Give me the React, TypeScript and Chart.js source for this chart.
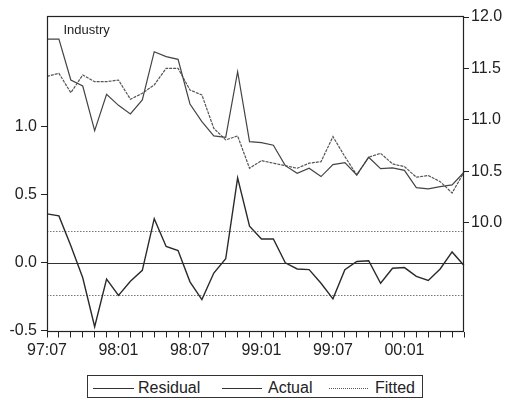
import React, { useEffect, useRef } from 'react';
import { Chart, registerables } from 'chart.js';

Chart.register(...registerables);

const months = [
  '97:07', '97:08', '97:09', '97:10', '97:11', '97:12',
  '98:01', '98:02', '98:03', '98:04', '98:05', '98:06',
  '98:07', '98:08', '98:09', '98:10', '98:11', '98:12',
  '99:01', '99:02', '99:03', '99:04', '99:05', '99:06',
  '99:07', '99:08', '99:09', '99:10', '99:11', '99:12',
  '00:01', '00:02', '00:03', '00:04', '00:05', '00:06',
];

const labeledMonths = ['97:07', '98:01', '98:07', '99:01', '99:07', '00:01'];

const residual = [
  0.36, 0.345, 0.125, -0.11, -0.47, -0.12, -0.24, -0.135, -0.055, 0.325,
  0.12, 0.09, -0.14, -0.27, -0.075, 0.03, 0.625, 0.27, 0.175, 0.175,
  0.0, -0.045, -0.05, -0.15, -0.265, -0.05, 0.01, 0.015, -0.15, -0.04,
  -0.035, -0.1, -0.13, -0.045, 0.08, -0.02,
];

const actual = [
  11.786, 11.786, 11.388, 11.33, 10.896, 11.249, 11.142, 11.058, 11.194, 11.663,
  11.615, 11.589, 11.155, 10.984, 10.845, 10.832, 11.469, 10.79, 10.78, 10.754,
  10.556, 10.482, 10.531, 10.45, 10.566, 10.586, 10.466, 10.638, 10.527, 10.534,
  10.511, 10.343, 10.33, 10.353, 10.369, 10.492,
];

const fitted = [
  11.424, 11.453, 11.265, 11.437, 11.372, 11.372, 11.388, 11.201, 11.259, 11.34,
  11.502, 11.502, 11.291, 11.243, 10.919, 10.806, 10.845, 10.531, 10.605, 10.58,
  10.556, 10.531, 10.58, 10.595, 10.838, 10.644, 10.466, 10.638, 10.676, 10.573,
  10.547, 10.444, 10.46, 10.401, 10.291, 10.492,
];

const seBand = 0.233;
const leftTicks = [-0.5, 0.0, 0.5, 1.0];
const rightTicks = [10.0, 10.5, 11.0, 11.5, 12.0];
const seriesNames = ['Residual', 'Actual', 'Fitted'];
const panelTitle = 'Industry';

const FONT = '"Liberation Sans", Arial, Helvetica, sans-serif';
const INK = '#222';

const framePlugin = {
  id: 'evFrame',
  beforeDatasetsDraw(chart: any) {
    const { ctx, chartArea } = chart;
    const y = chart.scales.y;
    ctx.save();
    const y0 = Math.round(y.getPixelForValue(0)) + 0.5;
    ctx.strokeStyle = '#333';
    ctx.lineWidth = 1.2;
    ctx.beginPath();
    ctx.moveTo(chartArea.left, y0);
    ctx.lineTo(chartArea.right, y0);
    ctx.stroke();
    ctx.strokeStyle = '#777';
    ctx.lineWidth = 1;
    ctx.setLineDash([1.5, 1.5]);
    [seBand, -seBand].forEach((v) => {
      const py = Math.round(y.getPixelForValue(v)) + 0.5;
      ctx.beginPath();
      ctx.moveTo(chartArea.left, py);
      ctx.lineTo(chartArea.right, py);
      ctx.stroke();
    });
    ctx.restore();
  },
  afterDraw(chart: any) {
    const { ctx, chartArea } = chart;
    ctx.save();
    ctx.strokeStyle = INK;
    ctx.lineWidth = 1.2;
    ctx.strokeRect(
      Math.round(chartArea.left) + 0.5,
      Math.round(chartArea.top) + 0.5,
      Math.round(chartArea.right - chartArea.left) - 1,
      Math.round(chartArea.bottom - chartArea.top) - 1
    );
    ctx.fillStyle = INK;
    ctx.font = `13px ${FONT}`;
    ctx.textBaseline = 'middle';
    ctx.textAlign = 'left';
    ctx.fillText(panelTitle, chartArea.left + 16.5, chartArea.top + 14);
    ctx.restore();
  },
};

export default function App() {
  const canvasRef = useRef<HTMLCanvasElement | null>(null);

  useEffect(() => {
    if (!canvasRef.current) return;
    const tickFont = { family: FONT, size: 16 };
    const chart = new Chart(canvasRef.current, {
      type: 'line',
      data: {
        labels: months,
        datasets: [
          {
            label: seriesNames[0],
            data: residual,
            yAxisID: 'y',
            borderColor: '#2a2a2a',
            borderWidth: 1.4,
            pointRadius: 0,
            tension: 0,
          },
          {
            label: seriesNames[1],
            data: actual,
            yAxisID: 'y1',
            borderColor: '#444',
            borderWidth: 1.2,
            pointRadius: 0,
            tension: 0,
          },
          {
            label: seriesNames[2],
            data: fitted,
            yAxisID: 'y1',
            borderColor: '#555',
            borderWidth: 1.2,
            borderDash: [3, 1],
            pointRadius: 0,
            tension: 0,
          },
        ],
      },
      options: {
        responsive: false,
        animation: false,
        layout: { padding: { top: 16, left: 0, right: 0, bottom: 0 } },
        plugins: {
          legend: { display: false },
          tooltip: { enabled: false },
        },
        scales: {
          x: {
            type: 'category',
            offset: false,
            grid: {
              display: true,
              drawOnChartArea: false,
              drawTicks: true,
              tickLength: 6,
              color: INK,
              offset: false,
            },
            border: { display: false },
            ticks: {
              autoSkip: false,
              maxRotation: 0,
              minRotation: 0,
              padding: 3,
              color: INK,
              font: tickFont,
              callback: (_v: any, i: number) =>
                labeledMonths.includes(months[i]) ? months[i] : '',
            },
            afterFit: (s: any) => {
              s.height = 38.5;
            },
          },
          y: {
            position: 'left',
            min: -0.505,
            max: 1.815,
            afterBuildTicks: (s: any) => {
              s.ticks = leftTicks.map((v) => ({ value: v }));
            },
            grid: { drawOnChartArea: false, tickLength: 6, color: INK },
            border: { display: false },
            ticks: {
              padding: 4,
              color: INK,
              font: tickFont,
              callback: (v: any) => Number(v).toFixed(1),
            },
            afterFit: (s: any) => {
              s.width = 47;
            },
          },
          y1: {
            position: 'right',
            min: 8.945,
            max: 12.01,
            afterBuildTicks: (s: any) => {
              s.ticks = rightTicks.map((v) => ({ value: v }));
            },
            grid: { drawOnChartArea: false, tickLength: 5, color: INK },
            border: { display: false },
            ticks: {
              padding: 2,
              color: INK,
              font: tickFont,
              callback: (v: any) => Number(v).toFixed(1),
            },
            afterFit: (s: any) => {
              s.width = 44;
            },
          },
        },
      } as any,
      plugins: [framePlugin],
    });
    return () => chart.destroy();
  }, []);

  const lineStyle = (left: number, width: number, dotted: boolean): React.CSSProperties => ({
    position: 'absolute',
    left,
    top: 388,
    width,
    height: 0,
    borderTop: dotted ? '1px dotted #555' : '1px solid #333',
  });
  const textStyle = (left: number): React.CSSProperties => ({
    position: 'absolute',
    left,
    top: 379,
    fontFamily: FONT,
    fontSize: 16,
    lineHeight: '18px',
    color: INK,
    whiteSpace: 'nowrap',
  });

  return (
    <div
      style={{
        position: 'fixed',
        left: 0,
        top: 0,
        width: 508,
        height: 400,
        background: '#fff',
        overflow: 'hidden',
      }}
    >
      <canvas ref={canvasRef} width={508} height={370} style={{ display: 'block' }} />
      <div
        style={{
          position: 'absolute',
          left: 87,
          top: 375,
          width: 334,
          height: 21,
          border: '1.5px solid #333',
        }}
      />
      <div style={lineStyle(93, 41, false)} />
      <div style={textStyle(138)}>{seriesNames[0]}</div>
      <div style={lineStyle(222, 40, false)} />
      <div style={textStyle(268)}>{seriesNames[1]}</div>
      <div style={lineStyle(329, 39, true)} />
      <div style={textStyle(375)}>{seriesNames[2]}</div>
    </div>
  );
}
